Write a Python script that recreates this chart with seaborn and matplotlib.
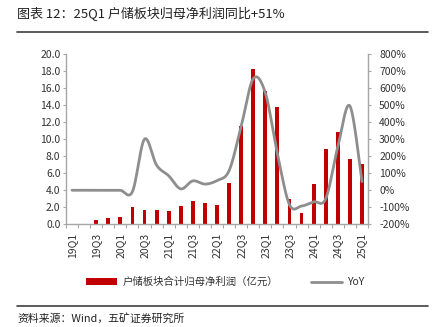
import numpy as np
import pandas as pd
import matplotlib
matplotlib.use("Agg")
import matplotlib.pyplot as plt
import seaborn as sns
from matplotlib.patches import Patch
from matplotlib.lines import Line2D

quarters = ["19Q1", "19Q2", "19Q3", "19Q4", "20Q1", "20Q2", "20Q3", "20Q4",
            "21Q1", "21Q2", "21Q3", "21Q4", "22Q1", "22Q2", "22Q3", "22Q4",
            "23Q1", "23Q2", "23Q3", "23Q4", "24Q1", "24Q2", "24Q3", "24Q4", "25Q1"]
profit = [0.0, 0.0, 0.47, 0.74, 0.86, 2.03, 1.72, 1.72,
          1.56, 2.18, 2.73, 2.46, 2.30, 4.83, 11.5, 18.28,
          15.6, 13.76, 3.0, 1.33, 4.72, 8.81, 10.8, 7.68, 7.10]
yoy = [0, 0, 0, 0, 0, -8, 300, 147,
       85, 8, 55, 36, 57, 115, 375, 655,
       572, 215, -85, -93, -68, -50, 255, 495, 51]

title = "图表 12：25Q1 户储板块归母净利润同比+51%"
bar_label = "户储板块合计归母净利润（亿元）"
line_label = "YoY"
source = "资料来源：Wind，五矿证券研究所"

sns.set_style("white")
plt.rcParams['font.family'] = ['Noto Sans CJK SC', 'DejaVu Sans']

W, H = 435, 327
fig = plt.figure(figsize=(W / 100, H / 100), dpi=100)
ax = fig.add_axes([66 / W, 1 - 224.3 / H, (368 - 66) / W, (224.3 - 54) / H])

df = pd.DataFrame({"q": quarters, "v": profit})
sns.barplot(data=df, x="q", y="v", ax=ax, color="#C00000", width=0.32,
            saturation=1, order=quarters, linewidth=0, edgecolor="none")
ax.set_xlim(-0.5, len(quarters) - 0.5)
ax.set_ylim(0, 20)
ax.set_yticks(np.arange(0, 20.1, 2))
ax.set_yticklabels([f"{v:.1f}" for v in np.arange(0, 20.1, 2)])
ax.set_xlabel("")
ax.set_ylabel("")

# smoothed YoY line (Excel-style Bezier smoothing)
def smooth(xv, yv, n=24):
    pts = np.column_stack([xv, yv]).astype(float)
    out = []
    for i in range(len(pts) - 1):
        p0 = pts[i - 1] if i > 0 else pts[i]
        p1 = pts[i]
        p2 = pts[i + 1]
        p3 = pts[i + 2] if i + 2 < len(pts) else pts[i + 1]
        c1 = p1 + (p2 - p0) / 6
        c2 = p2 - (p3 - p1) / 6
        t = np.linspace(0, 1, n)[:, None]
        seg = ((1 - t) ** 3) * p1 + 3 * ((1 - t) ** 2) * t * c1 + 3 * (1 - t) * t ** 2 * c2 + t ** 3 * p2
        out.append(seg if i == 0 else seg[1:])
    s = np.vstack(out)
    return s[:, 0], s[:, 1]

ax2 = ax.twinx()
sx, sy = smooth(np.arange(len(yoy)), yoy)
sns.lineplot(x=sx, y=sy, ax=ax2, color="#8E8E8E", linewidth=2.0, sort=False,
             estimator=None)
ax2.set_ylim(-200, 800)
ax2.set_yticks(np.arange(-200, 801, 100))
ax2.set_yticklabels([f"{v}%" for v in range(-200, 801, 100)])
ax2.set_xlim(-0.5, len(quarters) - 0.5)

spine_c = "#A6A6A6"
txt_c = "#333333"
for a in (ax, ax2):
    for s in a.spines.values():
        s.set_visible(False)
ax.spines["left"].set_visible(True)
ax.spines["bottom"].set_visible(True)
ax2.spines["right"].set_visible(True)
for s in (ax.spines["left"], ax.spines["bottom"], ax2.spines["right"]):
    s.set_color(spine_c)
    s.set_linewidth(1.0)

ax.tick_params(axis="y", which="major", direction="out", length=2.5, width=0.8,
               color=spine_c, labelsize=7.5, labelcolor=txt_c, pad=1.5, left=True)
ax2.tick_params(axis="y", which="major", direction="out", length=2.5, width=0.8,
                color=spine_c, labelsize=7.5, labelcolor=txt_c, pad=5.5, right=True)

# x ticks: labels every other quarter, tick marks at category boundaries
ax.set_xticks(np.arange(0, len(quarters), 2))
ax.set_xticklabels(quarters[::2], rotation=90)
ax.set_xticks(np.arange(-0.5, len(quarters), 1), minor=True)
ax.tick_params(axis="x", which="major", length=0, labelsize=7.5, labelcolor=txt_c, pad=6)
ax.tick_params(axis="x", which="minor", direction="out", length=3, width=0.8,
               color=spine_c, bottom=True)

# title and rules
fig.text(17 / W, 1 - 14 / H, title, fontsize=9.4, color="#222222", va="center", ha="left")
fig.add_artist(Line2D([17 / W, 428 / W], [1 - 31.7 / H, 1 - 31.7 / H],
                      color="#404040", linewidth=1.2))
fig.add_artist(Line2D([17 / W, 428 / W], [1 - 306 / H, 1 - 306 / H],
                      color="#404040", linewidth=1.2))
fig.text(17 / W, 1 - 318 / H, source, fontsize=7.8, color="#222222", va="center", ha="left")

handles = [Patch(facecolor="#C00000", edgecolor="none"),
           Line2D([0], [0], color="#8E8E8E", linewidth=2.0)]
fig.legend(handles, [bar_label, line_label], loc="center",
           bbox_to_anchor=(225.5 / W, 1 - 282 / H), ncol=2, frameon=False,
           fontsize=7.5, handlelength=2.9, handleheight=0.6, handletextpad=0.55,
           columnspacing=3.2, labelcolor=txt_c)

fig.savefig("out.png", dpi=100)
